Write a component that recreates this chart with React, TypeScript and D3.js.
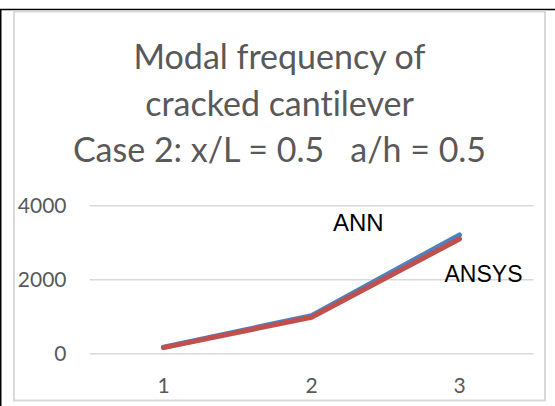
import React from 'react';
import * as d3 from 'd3';

const categories = ['1', '2', '3'];
const annValues = [175, 1030, 3210];
const ansysValues = [165, 985, 3100];
const yTicks = [0, 2000, 4000];
const titleLines = ['Modal frequency of', 'cracked cantilever', 'Case 2: x/L = 0.5   a/h = 0.5'];
const seriesNames = ['ANN', 'ANSYS'];

const W = 555;
const H = 406;

export default function App() {
  const x = d3.scaleBand<string>().domain(categories).range([89.5, 533.5]);
  const y = d3.scaleLinear().domain([0, 4000]).range([353.7, 205.7]);
  const cx = (c: string) => (x(c) as number) + x.bandwidth() / 2;

  const line = d3
    .line<number>()
    .x((_, i) => cx(categories[i]))
    .y((d) => y(d));

  const titleFont = "Lato, 'Open Sans', sans-serif";
  const grey = '#595959';
  const textStyle: React.CSSProperties = {
    whiteSpace: 'pre',
    fontVariantLigatures: 'none',
    fontFeatureSettings: '"liga" 0, "clig" 0',
  };

  return (
    <svg
      width={W}
      height={H}
      style={{ position: 'absolute', left: 0, top: 0, background: '#fff' }}
    >
      <rect x={0} y={0} width={W} height={H} fill="#fff" />
      {/* outer black frame lines */}
      <line x1={0} x2={W} y1={9.5} y2={9.5} stroke="#000" strokeWidth={1.5} />
      <line x1={0.75} x2={0.75} y1={9} y2={H} stroke="#000" strokeWidth={1.5} />
      {/* chart area border */}
      <rect x={14} y={11.5} width={531} height={389} fill="#fff" stroke="#D9D9D9" strokeWidth={2} />

      {/* title */}
      {titleLines.map((t, i) => (
        <text
          key={i}
          x={279.5}
          y={69 + i * 46.5}
          textAnchor="middle"
          fontFamily={titleFont}
          fontSize={34}
          fill={grey}
          xmlSpace="preserve"
          style={textStyle}
        >
          {t}
        </text>
      ))}

      {/* gridlines */}
      {yTicks.map((t) => (
        <line
          key={t}
          x1={x.range()[0]}
          x2={x.range()[1]}
          y1={y(t)}
          y2={y(t)}
          stroke="#D9D9D9"
          strokeWidth={1.5}
        />
      ))}

      {/* y labels */}
      {yTicks.map((t) => (
        <text
          key={'yl' + t}
          x={66.5}
          y={y(t) + 7.5}
          textAnchor="end"
          fontFamily={titleFont}
          fontSize={21}
          fill={grey}
          style={textStyle}
        >
          {t}
        </text>
      ))}

      {/* x labels */}
      {categories.map((c) => (
        <text
          key={'xl' + c}
          x={cx(c)}
          y={393}
          textAnchor="middle"
          fontFamily={titleFont}
          fontSize={21}
          fill={grey}
          style={textStyle}
        >
          {c}
        </text>
      ))}

      {/* series */}
      <path
        d={line(annValues) as string}
        fill="none"
        stroke="#4F81BD"
        strokeWidth={5}
        strokeLinecap="round"
        strokeLinejoin="round"
      />
      <path
        d={line(ansysValues) as string}
        fill="none"
        stroke="#C0504D"
        strokeWidth={5}
        strokeLinecap="round"
        strokeLinejoin="round"
      />

      {/* series name labels */}
      <text
        x={cx(categories[2]) - 126.5}
        y={y(annValues[2]) - 3.5}
        fontFamily="'Liberation Sans', Arial, sans-serif"
        fontSize={24}
        fill="#000"
      >
        {seriesNames[0]}
      </text>
      <text
        x={cx(categories[2]) - 15}
        y={y(ansysValues[2]) + 43}
        fontFamily="'Liberation Sans', Arial, sans-serif"
        fontSize={23}
        fill="#000"
      >
        {seriesNames[1]}
      </text>
    </svg>
  );
}
